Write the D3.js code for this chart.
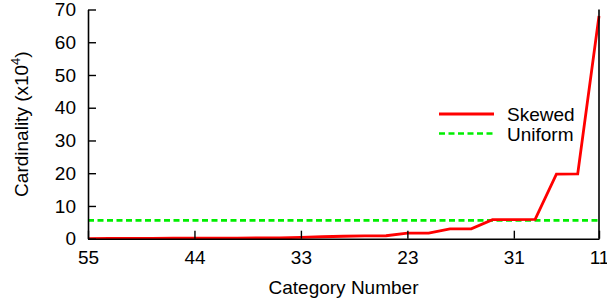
<!DOCTYPE html>
<html>
<head>
<meta charset="utf-8">
<script src="https://cdn.jsdelivr.net/npm/d3@7"></script>
<style>
  body { margin: 0; background: #fff; }
  text { font-family: "Liberation Sans", Arial, sans-serif; }
</style>
</head>
<body>
<div id="chart"></div>
<script>
// x positions are point indices; only some of them carry a category label
var tickIndex = [0, 5, 10, 15, 20, 24];
var tickLabels = ["55", "44", "33", "23", "31", "11"];
var yTicks = [0, 10, 20, 30, 40, 50, 60, 70];

var skewed = [0.05, 0.07, 0.09, 0.11, 0.13, 0.15, 0.18, 0.2, 0.23, 0.28,
              0.4, 0.6, 0.75, 0.85, 0.9, 1.7, 1.7, 3.0, 3.0, 5.8,
              5.85, 5.9, 19.7, 19.8, 68];
var uniform = 5.6;

var width = 607, height = 308;
var mLeft = 88, mRight = 599, mTop = 9.5, mBottom = 238.7;

var svg = d3.select("#chart")
    .append("svg")
    .attr("width", width)
    .attr("height", height);

var x = d3.scaleLinear().domain([0, skewed.length - 1]).range([mLeft, mRight]);
var y = d3.scaleLinear().domain([0, 70]).range([mBottom, mTop]);

var xAxis = d3.axisBottom(x)
    .tickValues(tickIndex)
    .tickFormat(function (d, i) { return tickLabels[i]; })
    .tickSizeInner(-8)
    .tickSizeOuter(0)
    .tickPadding(12);

var yAxis = d3.axisLeft(y)
    .tickValues(yTicks)
    .tickSizeInner(-8)
    .tickSizeOuter(0)
    .tickPadding(12);

// lines first, axes on top
var line = d3.line()
    .x(function (d, i) { return x(i); })
    .y(function (d) { return y(d); });

svg.append("line")
    .attr("x1", x(0)).attr("x2", x(skewed.length - 1))
    .attr("y1", y(uniform)).attr("y2", y(uniform))
    .attr("stroke", "#00ee00")
    .attr("stroke-width", 2.6)
    .attr("stroke-dasharray", "6,3.5");

svg.append("path")
    .datum(skewed)
    .attr("d", line)
    .attr("fill", "none")
    .attr("stroke", "#ff0000")
    .attr("stroke-width", 2.8)
    .attr("stroke-linejoin", "miter");

var gx = svg.append("g")
    .attr("transform", "translate(0," + mBottom + ")")
    .call(xAxis);

var gy = svg.append("g")
    .attr("transform", "translate(" + mLeft + ",0)")
    .call(yAxis);

svg.append("line")
    .attr("x1", mRight).attr("x2", mRight)
    .attr("y1", mTop).attr("y2", mBottom)
    .attr("stroke", "#000")
    .attr("stroke-width", 1.6);

[gx, gy].forEach(function (g) {
    g.select(".domain").attr("stroke", "#000").attr("stroke-width", 1.6);
    g.selectAll(".tick line").attr("stroke", "#000").attr("stroke-width", 1.4);
    g.selectAll(".tick text")
        .attr("fill", "#000")
        .style("font-size", "19px")
        .style("font-family", "'Liberation Sans', Arial, sans-serif");
});

// axis titles
svg.append("text")
    .attr("x", (mLeft + mRight) / 2)
    .attr("y", 294)
    .attr("text-anchor", "middle")
    .style("font-size", "19px")
    .text("Category Number");

var yl = svg.append("text")
    .attr("transform", "translate(28," + (mTop + mBottom) / 2 + ") rotate(-90)")
    .attr("text-anchor", "middle")
    .style("font-size", "19px");
yl.append("tspan").text("Cardinality (x10");
yl.append("tspan").attr("dy", -8).style("font-size", "13px").text("4");
yl.append("tspan").attr("dy", 8).text(")");

// legend
var legend = [
    { name: "Skewed", color: "#ff0000", dash: null, w: 2.8 },
    { name: "Uniform", color: "#00ee00", dash: "6,3.5", w: 2.6 }
];

var lg = svg.selectAll(".legend")
    .data(legend)
    .enter()
    .append("g")
    .attr("class", "legend")
    .attr("transform", function (d, i) { return "translate(439," + (114 + i * 19.5) + ")"; });

lg.append("line")
    .attr("x1", 0).attr("x2", 55)
    .attr("stroke", function (d) { return d.color; })
    .attr("stroke-width", function (d) { return d.w; })
    .attr("stroke-dasharray", function (d) { return d.dash; });

lg.append("text")
    .attr("x", 68)
    .attr("y", 7)
    .style("font-size", "19px")
    .text(function (d) { return d.name; });
</script>
</body>
</html>
